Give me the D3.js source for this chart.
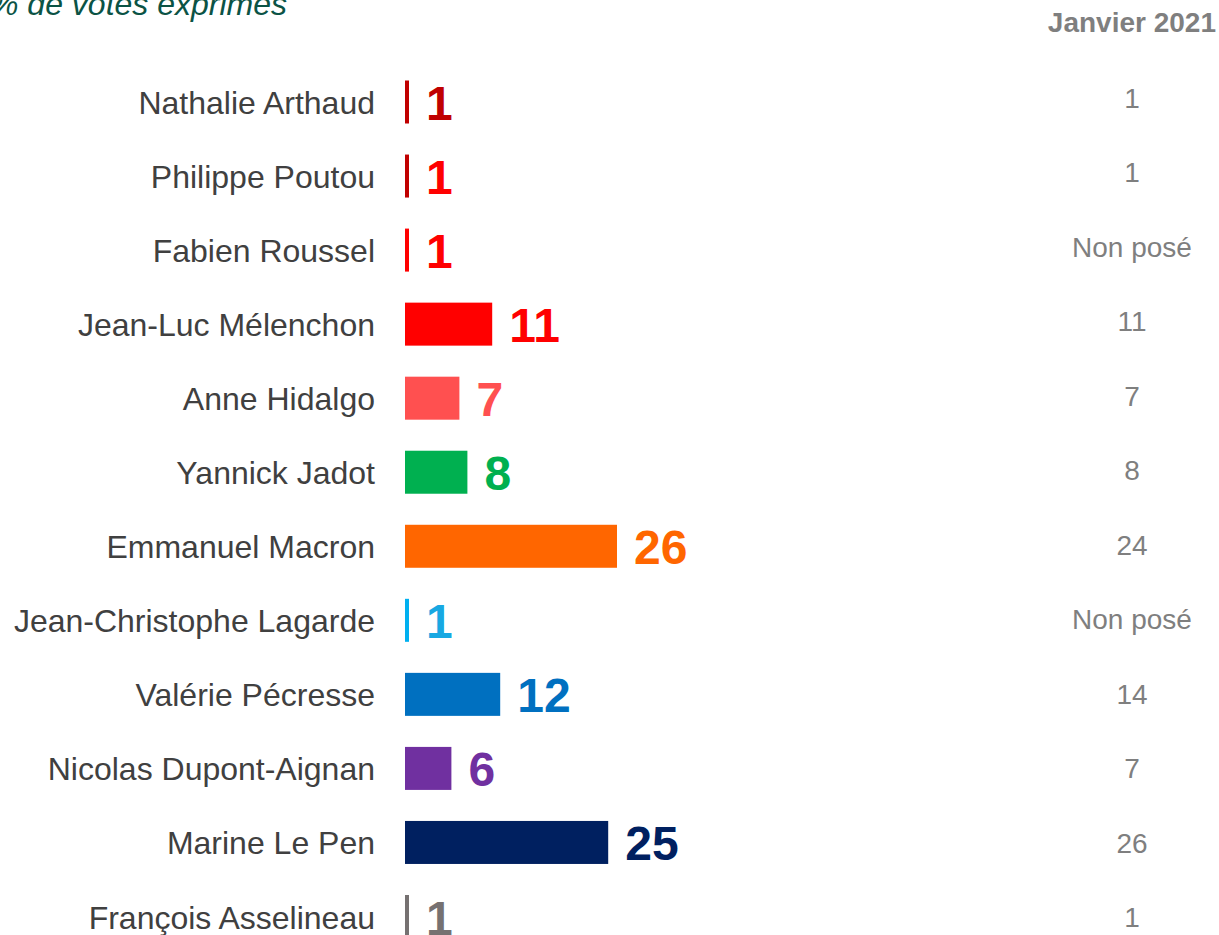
<!DOCTYPE html>
<html>
<head>
<meta charset="utf-8">
<script src="https://cdn.jsdelivr.net/npm/d3@7"></script>
<style>
  html, body { margin: 0; padding: 0; background: #fff; overflow: hidden; }
  svg { display: block; font-family: Arial, "Liberation Sans", sans-serif; }
</style>
</head>
<body>
<div id="chart"></div>
<script>
'use strict';

// candidates, top to bottom
const candidates = [
    "Nathalie Arthaud", "Philippe Poutou", "Fabien Roussel", "Jean-Luc Mélenchon",
    "Anne Hidalgo", "Yannick Jadot", "Emmanuel Macron", "Jean-Christophe Lagarde",
    "Valérie Pécresse", "Nicolas Dupont-Aignan", "Marine Le Pen", "François Asselineau"
];

// displayed score (%)
const scores = [1, 1, 1, 11, 7, 8, 26, 1, 12, 6, 25, 1];

// bar length (unrounded estimate)
const barValues = [0.5, 0.5, 0.5, 10.9, 6.8, 7.8, 26.5, 0.5, 11.9, 5.8, 25.4, 0.5];

// previous wave column
const previous = ["1", "1", "Non posé", "11", "7", "8", "24", "Non posé", "14", "7", "26", "1"];

const barColors = ["#C00000", "#C00000", "#FF0000", "#FF0000", "#FF5050", "#00B050",
    "#FF6600", "#00B0F0", "#0070C0", "#7030A0", "#002060", "#767171"];
const labelColors = ["#C00000", "#FF0000", "#FF0000", "#FF0000", "#FF5050", "#00B050",
    "#FF6600", "#18A8E2", "#0070C0", "#7030A0", "#002060", "#767171"];

const title = "% de votes exprimés";
const prevTitle = "Janvier 2021";

const width = 1219, height = 935;
const bar_x0 = 405, bar_h = 43;

const svg = d3.select('#chart')
    .append('svg')
    .attr('width', width)
    .attr('height', height);

// scales
const scale_x = d3.scaleLinear().domain([0, 30]).range([0, 240]);
const scale_y = d3.scalePoint().domain(candidates).range([102, 916.5]);
const scale_prev = d3.scalePoint().domain(candidates).range([97.5, 917]);

const rows = candidates.map((k, i) => ({
    k, score: scores[i], v: barValues[i], prev: previous[i],
    bar: barColors[i], label: labelColors[i]
}));

// header texts
svg.append('text')
    .attr('x', -10).attr('y', 15)
    .attr('font-size', 32).attr('font-style', 'italic')
    .attr('fill', '#0B5345')
    .text(title);

svg.append('text')
    .attr('x', 1216).attr('y', 32)
    .attr('text-anchor', 'end')
    .attr('font-size', 28).attr('font-weight', 'bold')
    .attr('fill', '#7F7F7F')
    .text(prevTitle);

// names
svg.append('g').selectAll('text')
    .data(rows)
    .join('text')
    .attr('x', 375)
    .attr('y', d => scale_y(d.k) + 12)
    .attr('text-anchor', 'end')
    .attr('font-size', 32)
    .attr('fill', '#404040')
    .text(d => d.k);

// bars
svg.append('g').selectAll('rect')
    .data(rows)
    .join('rect')
    .attr('x', bar_x0)
    .attr('y', d => scale_y(d.k) - bar_h / 2)
    .attr('width', d => scale_x(d.v))
    .attr('height', bar_h)
    .attr('fill', d => d.bar);

// value labels
svg.append('g').selectAll('text')
    .data(rows)
    .join('text')
    .attr('x', d => bar_x0 + scale_x(d.v) + 17)
    .attr('y', d => scale_y(d.k) + 18)
    .attr('font-size', 48)
    .attr('font-weight', 'bold')
    .attr('fill', d => d.label)
    .text(d => d.score);

// previous wave column
svg.append('g').selectAll('text')
    .data(rows)
    .join('text')
    .attr('x', 1132)
    .attr('y', d => scale_prev(d.k) + 10)
    .attr('text-anchor', 'middle')
    .attr('font-size', 28)
    .attr('fill', '#7F7F7F')
    .text(d => d.prev);
</script>
</body>
</html>
